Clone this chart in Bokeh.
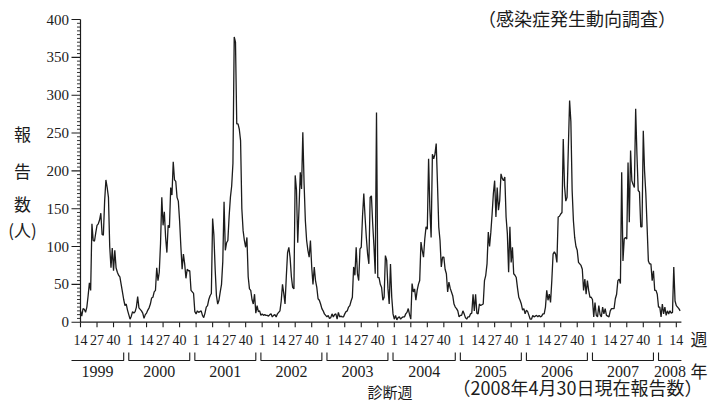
import numpy as np
from bokeh.plotting import figure
from bokeh.models import Range1d
from bokeh.core.properties import value
from bokeh.embed import file_html
from bokeh.resources import INLINE

# ---------------- data (weekly reports) ----------------
years = [1999, 2000, 2001, 2002, 2003, 2004, 2005, 2006, 2007, 2008]
weeks_in_year = [52, 52, 52, 52, 52, 53, 52, 52, 52, 52]
first_week_1999 = 14
week_tick_labels = [1, 14, 27, 40]
y_ticks = [0, 50, 100, 150, 200, 250, 300, 350, 400]
y_minor_step = 5

c1999 = [15, 8, 18, 17, 13, 20, 35, 52, 42, 130, 108, 107, 118, 128, 130, 135, 144, 116, 115, 160,
         188, 178, 165, 100, 72, 98, 68, 95, 72, 66, 62, 60, 50, 40, 30, 22, 24, 16, 10]
c2000 = [4, 8, 14, 12, 14, 20, 34, 19, 17, 15, 12, 5, 10, 12, 16, 19, 24, 32, 33, 40,
         42, 72, 55, 66, 104, 165, 128, 146, 112, 92, 128, 125, 178, 168, 212, 188, 186, 165, 160, 134,
         100, 70, 90, 77, 58, 70, 68, 68, 42, 40, 38, 14]
c2001 = [11, 15, 13, 14, 15, 9, 6, 12, 20, 22, 30, 35, 38, 137, 115, 70, 35, 24, 29, 40,
         50, 80, 159, 95, 105, 108, 140, 165, 180, 210, 377, 370, 262, 262, 255, 240, 150, 121, 108, 99,
         112, 60, 44, 42, 30, 24, 37, 12, 22, 14, 15, 9]
c2002 = [11, 9, 10, 9, 9, 8, 10, 11, 7, 9, 10, 7, 11, 13, 15, 28, 50, 38, 24, 60,
         92, 99, 85, 60, 46, 44, 194, 175, 105, 150, 198, 176, 251, 183, 134, 108, 95, 86, 108, 73,
         50, 73, 55, 46, 31, 29, 24, 18, 15, 11, 9, 7]
c2003 = [9, 5, 6, 11, 7, 10, 11, 4, 13, 7, 8, 7, 7, 11, 14, 15, 20, 22, 28, 33,
         73, 62, 99, 64, 55, 97, 99, 140, 170, 139, 112, 90, 77, 165, 167, 130, 100, 64, 277, 59,
         59, 50, 46, 29, 33, 88, 82, 45, 24, 77, 33, 11]
c2004 = [4, 9, 3, 6, 7, 4, 6, 7, 7, 11, 13, 18, 10, 4, 51, 40, 44, 29, 42, 50,
         55, 106, 95, 86, 110, 126, 123, 216, 150, 112, 222, 216, 222, 236, 183, 126, 108, 73, 86, 86,
         70, 64, 40, 53, 45, 40, 35, 24, 20, 18, 15, 7, 9]
c2005 = [9, 15, 11, 6, 4, 7, 7, 11, 12, 37, 15, 37, 12, 11, 24, 22, 23, 24, 55, 62,
         77, 119, 100, 119, 143, 170, 187, 139, 178, 148, 161, 196, 190, 187, 192, 139, 117, 66, 126, 79,
         99, 64, 62, 59, 45, 33, 29, 24, 16, 18, 11, 16]
c2006 = [14, 9, 4, 4, 9, 7, 8, 9, 7, 9, 7, 8, 11, 11, 20, 42, 29, 37, 26, 55,
         90, 93, 90, 79, 139, 140, 143, 145, 242, 180, 160, 165, 230, 293, 265, 174, 134, 112, 100, 95,
         79, 77, 75, 70, 42, 57, 37, 55, 42, 33, 33, 30]
c2007 = [7, 26, 9, 7, 22, 10, 7, 20, 11, 18, 9, 8, 7, 15, 18, 18, 18, 31, 37, 55,
         57, 51, 198, 81, 110, 112, 110, 211, 132, 227, 187, 182, 178, 282, 222, 174, 172, 126, 126, 253,
         200, 170, 126, 81, 77, 77, 55, 68, 42, 42, 37, 20]
c2008 = [20, 7, 24, 11, 20, 9, 15, 11, 15, 12, 13, 73, 28, 22, 20, 18, 15]

counts_by_year = [c1999, c2000, c2001, c2002, c2003, c2004, c2005, c2006, c2007, c2008]

# ---------------- geometry ----------------
W, H = 708, 401
AXIS_X_PX = 80.0
PX_PER_WEEK = 1.2704
Y0_PX, Y400_PX = 321.7, 19.0
upp = 400.0 / (Y0_PX - Y400_PX)          # data units per vertical pixel


def ypx(py):
    return (Y0_PX - py) * upp


def xpx(px):
    return (px - AXIS_X_PX) / PX_PER_WEEK


def dxpx(d):
    return d / PX_PER_WEEK


# build weekly index
xs, ys = [], []
year_start = []
idx = 0
for yr, vals in zip(years, counts_by_year):
    fw = first_week_1999 if yr == 1999 else 1
    year_start.append(idx - (fw - 1))
    for k, v in enumerate(vals):
        xs.append(idx + k)
        ys.append(v)
    idx += len(vals)
last_idx = xs[-1]
year_next = [year_start[i] + weeks_in_year[i] for i in range(len(years))]

p = figure(width=W, height=H, output_backend="svg", toolbar_location=None,
           x_range=Range1d(xpx(0), xpx(W)), y_range=Range1d(ypx(H), ypx(0)),
           x_axis_location=None, y_axis_location=None,
           min_border_left=0, min_border_right=0, min_border_top=0, min_border_bottom=0)
p.outline_line_color = None
p.xgrid.visible = False
p.ygrid.visible = False
p.background_fill_color = "white"
p.border_fill_color = "white"

ink = "#1c1c1c"
serif = value("Liberation Serif")
cjk = value("Noto Sans CJK JP")

# ---- y axis ----
p.segment(x0=[0], y0=[0], x1=[0], y1=[y_ticks[-1]], line_color=ink, line_width=1.2)
p.segment(x0=[dxpx(-9)] * len(y_ticks), y0=y_ticks, x1=[0] * len(y_ticks), y1=y_ticks,
          line_color=ink, line_width=1.1)
minor = [v for v in range(0, y_ticks[-1] + 1, y_minor_step) if v not in y_ticks]
p.segment(x0=[dxpx(-3.5)] * len(minor), y0=minor, x1=[0] * len(minor), y1=minor,
          line_color=ink, line_width=0.9)
p.text(x=[dxpx(-11.5)] * len(y_ticks), y=y_ticks, text=[str(v) for v in y_ticks],
       text_font=serif, text_font_size="15px", text_color=ink,
       text_align="right", text_baseline="middle")

# ---- data line ----
p.line(xs, ys, line_color=ink, line_width=1.3)

# ---- x axis ----
p.segment(x0=[0], y0=[0], x1=[last_idx + 1], y1=[0], line_color=ink, line_width=1.2)
tick_x, tick_lab = [], []
for s in year_start:
    for wk in week_tick_labels:
        t = s + wk - 1
        if 0 <= t <= last_idx:
            tick_x.append(t)
            tick_lab.append(str(wk))
tick_len = 5 * upp
p.segment(x0=tick_x, y0=[0] * len(tick_x), x1=tick_x, y1=[-tick_len] * len(tick_x),
          line_color=ink, line_width=1.1)
p.text(x=tick_x, y=[ypx(339.5)] * len(tick_x), text=tick_lab,
       text_font=serif, text_font_size="14px", text_color=ink,
       text_align="center", text_baseline="middle")

# ---- year brackets ----
yb = ypx(360)
yt = ypx(352)
bx, by, lx, lyr = [], [], [], []
for i, yr in enumerate(years):
    left = year_start[i] - 1 if yr != 1999 else xpx(71)
    right = year_next[i] - 5 if yr != 2008 else last_idx + 1
    if yr == 1999:
        bx.append([left, right, right]); by.append([yb, yb, yt])
    elif yr == 2008:
        bx.append([left, left, right]); by.append([yt, yb, yb])
    else:
        bx.append([left, left, right, right]); by.append([yt, yb, yb, yt])
    lx.append((left + right) / 2)
    lyr.append(str(yr))
p.multi_line(bx, by, line_color=ink, line_width=1.1)
p.text(x=lx, y=[ypx(371)] * len(lx), text=lyr, text_font=serif,
       text_font_size="16px", text_color=ink, text_align="center", text_baseline="middle")

# ---- texts ----
p.text(x=[xpx(698.5), xpx(698.5)], y=[ypx(337.5), ypx(370)], text=["週", "年"],
       text_font=cjk, text_font_size="17px", text_color=ink,
       text_align="center", text_baseline="middle")
p.text(x=[xpx(389.5)], y=[ypx(390.5)], text=["診断週"], text_font=cjk,
       text_font_size="15px", text_color=ink, text_align="center", text_baseline="middle")
p.text(x=[xpx(577)], y=[ypx(386.5)], text=["（2008年4月30日現在報告数）"], text_font=cjk,
       text_font_size="18px", text_color=ink, text_align="center", text_baseline="middle")
p.text(x=[xpx(576.5)], y=[ypx(17.5)], text=["（感染症発生動向調査）"], text_font=cjk,
       text_font_size="18px", text_color=ink, text_align="center", text_baseline="middle")

# vertical y title, one character per row
title_chars = ["報", "告", "数", "(人)"]
title_rows_px = [132.5, 169.5, 202.5, 228.5]
p.text(x=[xpx(22)] * len(title_chars), y=[ypx(v) for v in title_rows_px], text=title_chars,
       text_font=cjk, text_font_size="17px", text_color=ink,
       text_align="center", text_baseline="middle")

open("out.html", "w").write(file_html(p, INLINE))
